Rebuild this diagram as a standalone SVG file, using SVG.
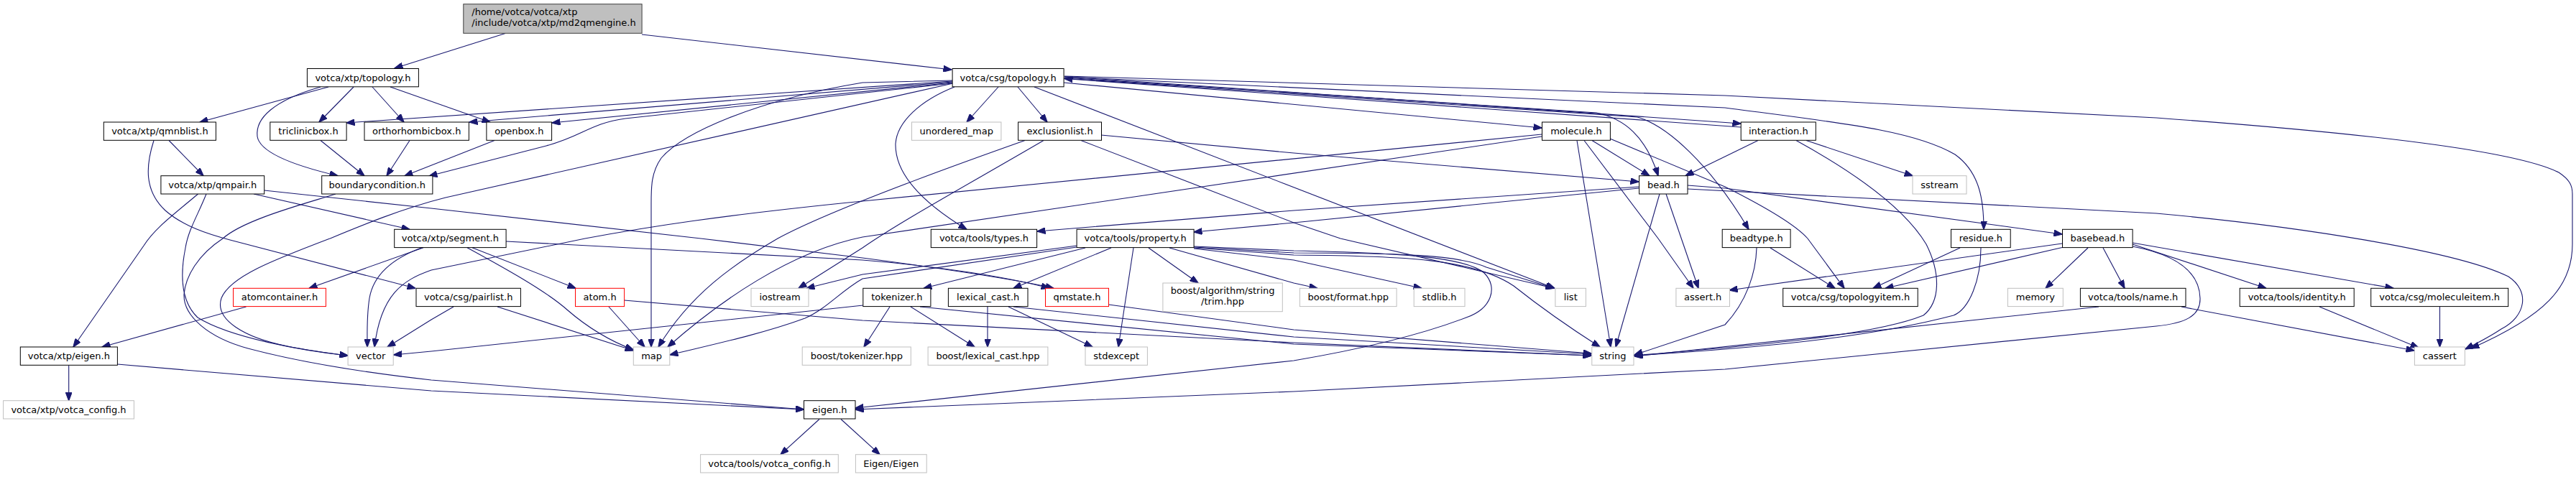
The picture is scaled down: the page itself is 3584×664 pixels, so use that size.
<svg xmlns="http://www.w3.org/2000/svg" width="3584" height="664" viewBox="0 0 3584 664">
<style>
.node rect{fill:#fff;stroke:#000;stroke-width:1}
.node.root rect{fill:#bfbfbf;stroke:#404040}
.node.ext rect{stroke:#bfbfbf}
.node.red rect{stroke:#ff0000}
text{font-family:'DejaVu Sans','Liberation Sans',sans-serif;font-size:13px;fill:#000;text-anchor:middle}
#edges path{fill:none;stroke:#191970;stroke-width:1.1;marker-end:url(#arr)}
</style>
<defs>
<marker id="arr" markerWidth="12" markerHeight="9" refX="11.5" refY="4.5" orient="auto" markerUnits="userSpaceOnUse">
<path d="M0,0 L12,4.5 L0,9 z" fill="#191970" stroke="#191970" stroke-width="1"/>
</marker>
</defs>
<rect x="0" y="0" width="3584" height="664" fill="#fff"/>
<g id="edges">
<path d="M703,46.5 L549,95"/>
<path d="M893,48 L1324,97"/>
<path d="M457,121 L278,170"/>
<path d="M446,121 C380,140 355,165 358,190 C362,215 420,233 470,244.7"/>
<path d="M492,121 L444,170"/>
<path d="M518,121 L562,170"/>
<path d="M543,121 L682,170"/>
<path d="M235,195.5 L283,244.7"/>
<path d="M214,195.5 C203,230 200,265 230,293 C255,315 290,326 320,334 L578,401.3"/>
<path d="M446,195.5 L507,244.7"/>
<path d="M570,195.5 L538,244.7"/>
<path d="M688,195.5 L563,244.7"/>
<path d="M1325,113 L482,171"/>
<path d="M1325,114 L653,170"/>
<path d="M1325,115 L768,171"/>
<path d="M1325,116 L870,165 C820,172 810,190 760,203 L597,245"/>
<path d="M1326,116 L620,275 C560,290 500,315 459,332 C380,362 320,385 308,415 C298,445 340,470 400,482 C430,488 460,492 484,495"/>
<path d="M1325,112 L1200,115 C1050,140 950,185 920,220 C906,240 906,260 906,283 L906,483"/>
<path d="M1389,121 L1345,170"/>
<path d="M1416,121 L1457,170"/>
<path d="M1328,121 C1280,140 1248,170 1246,200 C1245,240 1280,280 1345,319.3"/>
<path d="M1480,115 L2145,178"/>
<path d="M1439,121 L2163,401.3"/>
<path d="M1481,106 L2400,133 L3000,164 C3300,186 3500,210 3560,240 C3575,250 3579,258 3579,270 L3579,340 C3579,400 3540,440 3438,485"/>
<path d="M1481,107 L2400,150 C2550,170 2660,180 2720,215 C2755,240 2760,280 2760,319.3"/>
<path d="M1481,108 L2221,157 C2260,165 2290,190 2307,244.7"/>
<path d="M1481,109 L2278,163 C2320,175 2380,230 2433,319.3"/>
<path d="M1481,106.5 L2422,172"/>
<path d="M2422,177 L1481,109.5"/>
<path d="M1532,188 L1800,213 L2280,253"/>
<path d="M1504,195.5 L1800,310 C1830,320 1850,327 1865,332 L2162,401.3"/>
<path d="M1426,195.5 C1300,240 1150,295 1082,332 C1020,368 960,410 916,483"/>
<path d="M1452,195.5 C1350,255 1250,310 1200,345 L1111,401.3"/>
<path d="M2215,195.5 L2295,244.7"/>
<path d="M2145,187 L1200,280 C1000,300 900,316 814,332 L600,376 C560,390 530,410 521,483"/>
<path d="M2145,190 L1200,330 C1100,350 1000,420 929,483"/>
<path d="M2194,195.5 L2241,483"/>
<path d="M2204,195.5 L2307,332 L2356,401.3"/>
<path d="M2240,193 L2400,260 C2460,290 2500,315 2515,332 L2566,401.3"/>
<path d="M2446,195.5 L2345,244.7"/>
<path d="M2513,195.5 L2661,244.7"/>
<path d="M2499,195.5 C2580,240 2650,290 2680,340 C2700,380 2700,420 2676,439 C2600,470 2400,484 2273,495"/>
<path d="M2280,260 L1800,293 L1443,322"/>
<path d="M2280,262 L1800,310 L1661,323"/>
<path d="M2348,258 L2400,262 L2869,326"/>
<path d="M2348,263 L3000,297 C3200,315 3420,350 3490,385 C3520,405 3515,440 3480,458 C3465,468 3450,476 3430,486"/>
<path d="M2309,270 L2248,483"/>
<path d="M2318,270 L2363,401.3"/>
<path d="M2463,345 L2553,401.3"/>
<path d="M2444,345 C2443,380 2430,420 2400,452 L2274,494"/>
<path d="M2727,345 L2606,401.3"/>
<path d="M2756,345 C2756,390 2740,430 2718,439 C2600,470 2450,484 2274,495"/>
<path d="M2869,339 L2406,404"/>
<path d="M2869,344.5 L2623,401.3"/>
<path d="M2905,345 L2846,401.3"/>
<path d="M2926,345 L2956,401.3"/>
<path d="M2967,340 L3153,401.3"/>
<path d="M2967,338 L3330,401.3"/>
<path d="M2967,343 C3030,355 3060,380 3061,415 C3062,440 3040,450 3000,454 L2400,514 L1800,545 L1190,570"/>
<path d="M1661,343 L1800,349 C1950,352 2040,358 2065,380 C2085,400 2075,430 2040,442 C1980,465 1900,485 1800,502 L1190,568"/>
<path d="M1661,344 L1800,352 C1950,352 2030,355 2068,372 L2162,401.3"/>
<path d="M1661,345 L1800,355 C1950,356 2050,360 2106,398 C2140,425 2190,460 2226,483"/>
<path d="M1661,346 L1800,362 L1978,401.3"/>
<path d="M1627,345 L1800,394 L1833,401.3"/>
<path d="M1598,345 L1667,394"/>
<path d="M1577,345 L1556,483"/>
<path d="M1546,345 L1410,401.3"/>
<path d="M1510,345 L1285,401.3"/>
<path d="M1498,342 L1200,382 L1122,401.3"/>
<path d="M1498,344 L1200,388 C1170,405 1150,430 1120,443 C1060,465 990,480 932,494"/>
<path d="M1238,427 L1202,483"/>
<path d="M1267,427 L1356,483"/>
<path d="M1280,427 L1800,479 L2214,495"/>
<path d="M1200.8,425 L600,489 L547.5,494"/>
<path d="M1374,427 L1374,483"/>
<path d="M1403,427 L1520,483"/>
<path d="M1410,427 L1800,469 L2214,493"/>
<path d="M1542.5,424 L1800,459 L2214,492"/>
<path d="M868.6,418 L1200,446 L1800,477 L2214,495"/>
<path d="M847,427 L897,483"/>
<path d="M650,344.7 C700,372 760,405 790,432 C820,458 850,475 881.3,487"/>
<path d="M657,344.7 L801,401.3"/>
<path d="M589,344.7 L430,401.3"/>
<path d="M589,344 C550,358 520,380 514,415 C510,440 511,460 511,483"/>
<path d="M704,336 L1200,362 C1300,370 1400,385 1460,401.3"/>
<path d="M367.7,265 L600,290 L975,332 L1200,359 C1300,372 1420,390 1466,401.3"/>
<path d="M353,270 L570,319.3"/>
<path d="M275.5,270 C240,300 215,318 200,342 L102,483"/>
<path d="M287,270 C275,300 262,320 258,345 C250,385 252,420 275,442 C320,470 420,488 484,495"/>
<path d="M467,270 C430,282 340,305 310,332 C275,355 258,385 256,410 C255,440 290,470 345,485 C420,505 520,520 600,529 L1118.5,570"/>
<path d="M631,427 L600,445 L539,483"/>
<path d="M692,427 L881.3,488"/>
<path d="M342.5,427 L142,483"/>
<path d="M95.7,508.5 L95.7,557.7"/>
<path d="M163.4,507 L600,544 L1118.5,570"/>
<path d="M1140,583.5 L1086,632.7"/>
<path d="M1170,583.5 L1224,632.7"/>
<path d="M2920,427 L2274,496"/>
<path d="M3035,427 L3359,488"/>
<path d="M3227,427 L3365,484"/>
<path d="M3394.5,427 L3394.5,483"/>
</g>
<g id="n_root" class="node root"><rect x="644.8" y="5.7" width="248.3" height="40.6"/><text x="656.3" y="21" style="text-anchor:start">/home/votca/votca/xtp</text><text x="656.3" y="36" style="text-anchor:start">/include/votca/xtp/md2qmengine.h</text></g>
<g id="n_xtp_topology" class="node"><rect x="427.4" y="95.5" width="155" height="25.3"/><text x="504.9" y="112.5">votca/xtp/topology.h</text></g>
<g id="n_csg_topology" class="node"><rect x="1325.1" y="95.5" width="155" height="25.3"/><text x="1402.6" y="112.5">votca/csg/topology.h</text></g>
<g id="n_qmnblist" class="node"><rect x="144.3" y="170" width="156.1" height="25.3"/><text x="222.4" y="187">votca/xtp/qmnblist.h</text></g>
<g id="n_triclinicbox" class="node"><rect x="375.8" y="170" width="106.3" height="25.3"/><text x="429" y="187">triclinicbox.h</text></g>
<g id="n_orthorhombicbox" class="node"><rect x="507" y="170" width="145.4" height="25.3"/><text x="579.7" y="187">orthorhombicbox.h</text></g>
<g id="n_openbox" class="node"><rect x="676.9" y="170" width="90.7" height="25.3"/><text x="722.3" y="187">openbox.h</text></g>
<g id="n_unordered_map" class="node ext"><rect x="1268.5" y="170" width="124.4" height="25.3"/><text x="1330.7" y="187">unordered_map</text></g>
<g id="n_exclusionlist" class="node"><rect x="1416.6" y="170" width="115.9" height="25.3"/><text x="1474.6" y="187">exclusionlist.h</text></g>
<g id="n_molecule" class="node"><rect x="2145.5" y="170" width="94.9" height="25.3"/><text x="2193" y="187">molecule.h</text></g>
<g id="n_interaction" class="node"><rect x="2422.2" y="170" width="104.1" height="25.3"/><text x="2474.3" y="187">interaction.h</text></g>
<g id="n_qmpair" class="node"><rect x="223.9" y="244.7" width="143.8" height="25.3"/><text x="295.8" y="261.7">votca/xtp/qmpair.h</text></g>
<g id="n_boundarycondition" class="node"><rect x="447.7" y="244.7" width="154.2" height="25.3"/><text x="524.8" y="261.7">boundarycondition.h</text></g>
<g id="n_bead" class="node"><rect x="2280.6" y="244.7" width="67.4" height="25.3"/><text x="2314.3" y="261.7">bead.h</text></g>
<g id="n_sstream" class="node ext"><rect x="2661" y="244.7" width="75" height="25.3"/><text x="2698.5" y="261.7">sstream</text></g>
<g id="n_segment" class="node"><rect x="548.7" y="319.3" width="155.4" height="25.3"/><text x="626.4" y="336.3">votca/xtp/segment.h</text></g>
<g id="n_types" class="node"><rect x="1295.3" y="319.3" width="147.3" height="25.3"/><text x="1369" y="336.3">votca/tools/types.h</text></g>
<g id="n_property" class="node"><rect x="1498.1" y="319.3" width="163" height="25.3"/><text x="1579.6" y="336.3">votca/tools/property.h</text></g>
<g id="n_beadtype" class="node"><rect x="2396.2" y="319.3" width="94.9" height="25.3"/><text x="2443.7" y="336.3">beadtype.h</text></g>
<g id="n_residue" class="node"><rect x="2714.5" y="319.3" width="82.7" height="25.3"/><text x="2755.9" y="336.3">residue.h</text></g>
<g id="n_basebead" class="node"><rect x="2869.5" y="319.3" width="97.6" height="25.3"/><text x="2918.3" y="336.3">basebead.h</text></g>
<g id="n_atomcontainer" class="node red"><rect x="324.5" y="401.3" width="128.9" height="25.3"/><text x="389" y="418.3">atomcontainer.h</text></g>
<g id="n_pairlist" class="node"><rect x="579" y="401.3" width="145.4" height="25.3"/><text x="651.7" y="418.3">votca/csg/pairlist.h</text></g>
<g id="n_atom" class="node red"><rect x="800.5" y="401.3" width="68.1" height="25.3"/><text x="834.6" y="418.3">atom.h</text></g>
<g id="n_iostream" class="node ext"><rect x="1045" y="401.3" width="80" height="25.3"/><text x="1085" y="418.3">iostream</text></g>
<g id="n_tokenizer" class="node"><rect x="1200.8" y="401.3" width="94.1" height="25.3"/><text x="1247.9" y="418.3">tokenizer.h</text></g>
<g id="n_lexical_cast" class="node"><rect x="1319.4" y="401.3" width="110.6" height="25.3"/><text x="1374.7" y="418.3">lexical_cast.h</text></g>
<g id="n_qmstate" class="node red"><rect x="1454.5" y="401.3" width="88" height="25.3"/><text x="1498.5" y="418.3">qmstate.h</text></g>
<g id="n_trim" class="node ext"><rect x="1617.9" y="394" width="166.4" height="39.7"/><text x="1701.1" y="409">boost/algorithm/string</text><text x="1701.1" y="424">/trim.hpp</text></g>
<g id="n_boost_format" class="node ext"><rect x="1808.4" y="401.3" width="134.7" height="25.3"/><text x="1875.8" y="418.3">boost/format.hpp</text></g>
<g id="n_stdlib" class="node ext"><rect x="1967.2" y="401.3" width="70.8" height="25.3"/><text x="2002.6" y="418.3">stdlib.h</text></g>
<g id="n_list" class="node ext"><rect x="2163.9" y="401.3" width="42.5" height="25.3"/><text x="2185.2" y="418.3">list</text></g>
<g id="n_assert" class="node ext"><rect x="2331.9" y="401.3" width="74.6" height="25.3"/><text x="2369.2" y="418.3">assert.h</text></g>
<g id="n_topologyitem" class="node"><rect x="2480.7" y="401.3" width="187.5" height="25.3"/><text x="2574.5" y="418.3">votca/csg/topologyitem.h</text></g>
<g id="n_memory" class="node ext"><rect x="2793.4" y="401.3" width="76.9" height="25.3"/><text x="2831.9" y="418.3">memory</text></g>
<g id="n_name" class="node"><rect x="2894.4" y="401.3" width="146.6" height="25.3"/><text x="2967.7" y="418.3">votca/tools/name.h</text></g>
<g id="n_identity" class="node"><rect x="3116.2" y="401.3" width="159" height="25.3"/><text x="3195.7" y="418.3">votca/tools/identity.h</text></g>
<g id="n_moleculeitem" class="node"><rect x="3298.7" y="401.3" width="191" height="25.3"/><text x="3394.2" y="418.3">votca/csg/moleculeitem.h</text></g>
<g id="n_xtp_eigen" class="node"><rect x="28.3" y="483" width="135.1" height="25.3"/><text x="95.9" y="500">votca/xtp/eigen.h</text></g>
<g id="n_vector" class="node ext"><rect x="484.1" y="483" width="63.1" height="25.3"/><text x="515.7" y="500">vector</text></g>
<g id="n_map" class="node ext"><rect x="881.3" y="483" width="50.5" height="25.3"/><text x="906.6" y="500">map</text></g>
<g id="n_boost_tokenizer" class="node ext"><rect x="1116.2" y="483" width="151.1" height="25.3"/><text x="1191.8" y="500">boost/tokenizer.hpp</text></g>
<g id="n_boost_lexical_cast" class="node ext"><rect x="1291.1" y="483" width="166.8" height="25.3"/><text x="1374.5" y="500">boost/lexical_cast.hpp</text></g>
<g id="n_stdexcept" class="node ext"><rect x="1510" y="483" width="86.4" height="25.3"/><text x="1553.2" y="500">stdexcept</text></g>
<g id="n_string" class="node ext"><rect x="2214.8" y="483" width="58.2" height="25.3"/><text x="2243.9" y="500">string</text></g>
<g id="n_cassert" class="node ext"><rect x="3359.4" y="483" width="70" height="25.3"/><text x="3394.4" y="500">cassert</text></g>
<g id="n_xtp_votca_config" class="node ext"><rect x="4.6" y="557.7" width="181.8" height="25.3"/><text x="95.5" y="574.7">votca/xtp/votca_config.h</text></g>
<g id="n_eigen" class="node"><rect x="1118.5" y="557.7" width="71.5" height="25.3"/><text x="1154.3" y="574.7">eigen.h</text></g>
<g id="n_tools_votca_config" class="node ext"><rect x="974.6" y="632.7" width="191.7" height="25.3"/><text x="1070.5" y="649.7">votca/tools/votca_config.h</text></g>
<g id="n_Eigen" class="node ext"><rect x="1190.4" y="632.7" width="98.8" height="25.3"/><text x="1239.8" y="649.7">Eigen/Eigen</text></g>
</svg>
